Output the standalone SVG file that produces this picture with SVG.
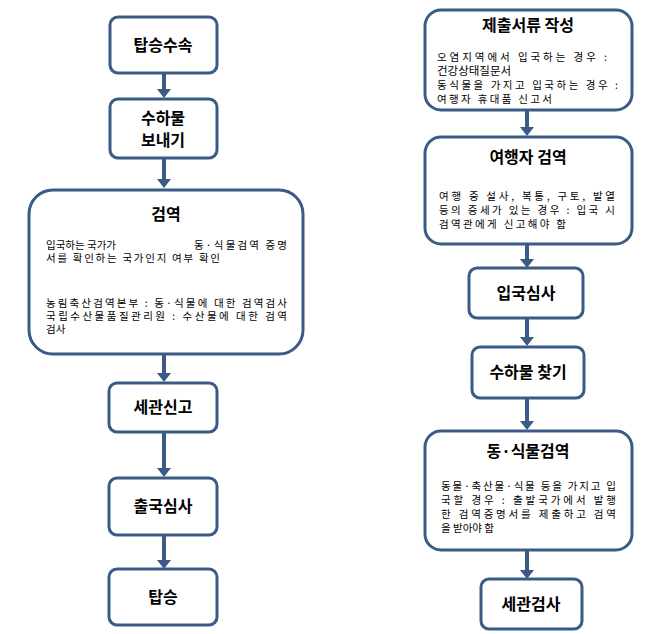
<svg xmlns="http://www.w3.org/2000/svg" width="663" height="634" viewBox="0 0 663 634">
<style>
.b{fill:#fff;stroke:#3b5a86;stroke-width:3}
.t{font-family:"Noto Sans CJK KR","Liberation Sans",sans-serif;font-weight:bold;font-size:16px;fill:#000;text-anchor:middle}
.s{font-family:"Noto Sans CJK KR","Liberation Sans",sans-serif;font-size:10.5px;fill:#000}
.a{fill:#3b5a86}
</style>
<rect width="663" height="634" fill="#fff"/>
<g id="connectors">
<path class="a" d="M162 73h4v16h5l-7 9l-7-9h5z"/>
<path class="a" d="M162 158h4v21h5l-7 9l-7-9h5z"/>
<path class="a" d="M162 354h4v19h5l-7 9l-7-9h5z"/>
<path class="a" d="M162 432h4v36h5l-7 9l-7-9h5z"/>
<path class="a" d="M162 535h4v25h5l-7 9l-7-9h5z"/>
<path class="a" d="M525 110h4v17h5l-7 9l-7-9h5z"/>
<path class="a" d="M525 244h4v15h5l-7 9l-7-9h5z"/>
<path class="a" d="M525 318h4v19h5l-7 9l-7-9h5z"/>
<path class="a" d="M525 398h4v23h5l-7 9l-7-9h5z"/>
<path class="a" d="M525 550h4v20h5l-7 9l-7-9h5z"/>
</g>
<g id="n1"><rect class="b" x="110" y="17" width="107" height="56" rx="8"/><text class="t" x="163" y="51">탑승수속</text></g>
<g id="n2"><rect class="b" x="110" y="99" width="107" height="59" rx="8"/><text class="t" x="163" y="124">수하물</text><text class="t" x="163" y="146">보내기</text></g>
<g id="n3"><rect class="b" x="29" y="190" width="274" height="164" rx="24"/><text class="t" x="166" y="220">검역</text>
<text class="s" x="46" y="249">입국하는 국가가</text>
<text class="s" x="194" y="249" textLength="93" lengthAdjust="spacing">동·식물검역 증명</text>
<text class="s" x="46" y="262" textLength="174" lengthAdjust="spacing">서를 확인하는 국가인지 여부 확인</text>
<text class="s" x="46" y="307" textLength="241" lengthAdjust="spacing">농림축산검역본부 : 동·식물에 대한 검역검사</text>
<text class="s" x="46" y="320" textLength="241" lengthAdjust="spacing">국립수산물품질관리원 : 수산물에 대한 검역</text>
<text class="s" x="46" y="333">검사</text></g>
<g id="n4"><rect class="b" x="109" y="383" width="108" height="49" rx="8"/><text class="t" x="163" y="413">세관신고</text></g>
<g id="n5"><rect class="b" x="109" y="478" width="108" height="57" rx="8"/><text class="t" x="163" y="512">출국심사</text></g>
<g id="n6"><rect class="b" x="109" y="569" width="108" height="56" rx="8"/><text class="t" x="163" y="603">탑승</text></g>
<g id="r1"><rect class="b" x="425" y="10" width="207" height="100" rx="16"/><text class="t" x="528" y="31">제출서류 작성</text>
<text class="s" x="437" y="61" textLength="170" lengthAdjust="spacing">오염지역에서 입국하는 경우 :</text>
<text class="s" x="437" y="75" style="font-size:11.5px">건강상태질문서</text>
<text class="s" x="437" y="89" textLength="181" lengthAdjust="spacing">동식물을 가지고 입국하는 경우 :</text>
<text class="s" x="437" y="103" textLength="115" lengthAdjust="spacing">여행자 휴대품 신고서</text></g>
<g id="r2"><rect class="b" x="425" y="137" width="207" height="107" rx="16"/><text class="t" x="528" y="163">여행자 검역</text>
<text class="s" x="439" y="200" textLength="176" lengthAdjust="spacing">여행 중 설사, 복통, 구토, 발열</text>
<text class="s" x="439" y="214" textLength="176" lengthAdjust="spacing">등의 증세가 있는 경우 : 입국 시</text>
<text class="s" x="439" y="228" textLength="127" lengthAdjust="spacing">검역관에게 신고해야 함</text></g>
<g id="r3"><rect class="b" x="469" y="268" width="114" height="50" rx="8"/><text class="t" x="526" y="299">입국심사</text></g>
<g id="r4"><rect class="b" x="472" y="347" width="112" height="51" rx="8"/><text class="t" x="528" y="378">수하물 찾기</text></g>
<g id="r5"><rect class="b" x="425" y="431" width="207" height="119" rx="16"/><text class="t" x="528" y="457">동·식물검역</text>
<text class="s" x="441" y="490" textLength="175" lengthAdjust="spacing">동물·축산물·식물 등을 가지고 입</text>
<text class="s" x="441" y="504" textLength="175" lengthAdjust="spacing">국할 경우 : 출발국가에서 발행</text>
<text class="s" x="441" y="518" textLength="175" lengthAdjust="spacing">한 검역증명서를 제출하고 검역</text>
<text class="s" x="441" y="532">을 받아야 함</text></g>
<g id="r6"><rect class="b" x="481" y="579" width="101" height="50" rx="8"/><text class="t" x="531" y="610">세관검사</text></g>
</svg>
